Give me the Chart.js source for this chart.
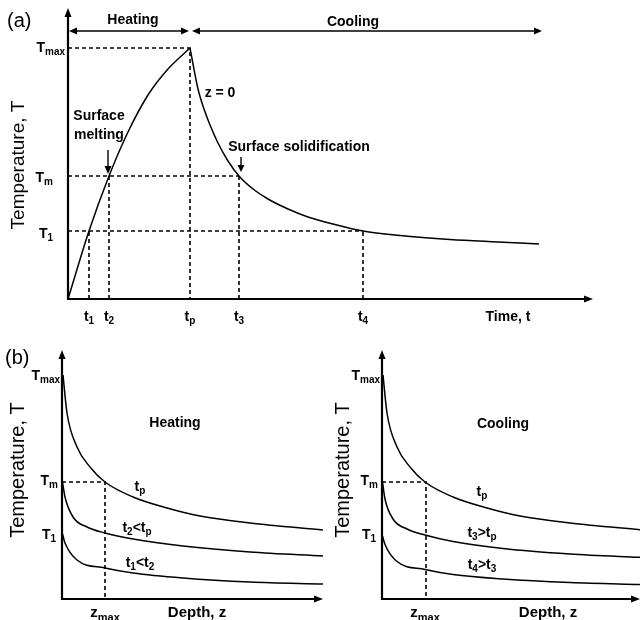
<!DOCTYPE html>
<html><head><meta charset="utf-8">
<script src="https://cdn.jsdelivr.net/npm/chart.js@4/dist/chart.umd.min.js"></script>
<style>
html,body{margin:0;padding:0;background:#fff;}
#wrap{position:relative;width:642px;height:620px;overflow:hidden;background:#fff;}
canvas{position:absolute;}
</style></head><body>
<div id="wrap">
<canvas id="ca" width="642" height="330" style="left:0;top:0"></canvas>
<canvas id="cb1" width="328" height="290" style="left:0;top:330px"></canvas>
<canvas id="cb2" width="314" height="290" style="left:328px;top:330px"></canvas>
</div>
<script>
// ---------- Panel (a): surface (z = 0) temperature vs time ----------
const timeTickLabels = ['t_1', 't_2', 't_p', 't_3', 't_4'];
const timeTicks      = [2.1, 4.1, 12.2, 17.1, 29.5];
const tempTickLabelsA = ['T_max', 'T_m', 'T_1'];
const tempTicksA      = [25.1, 12.3, 6.8];
const heatingTime = [0, 2.1, 4.1, 6.0, 8.0, 10.0, 12.2];
const heatingTemp = [0, 6.8, 12.3, 16.7, 20.4, 23.0, 25.1];
const coolingTime = [12.2, 12.5, 13.0, 13.6, 14.2, 15.0, 16.0, 17.1, 18.5, 20.0, 22.0, 24.0, 26.5, 29.5, 33.2, 38.2, 43.0, 47.1];
const coolingTemp = [25.1, 23.5, 21.0, 19.0, 17.4, 15.6, 13.8, 12.3, 11.0, 10.0, 9.0, 8.2, 7.5, 6.8, 6.35, 5.95, 5.7, 5.5];

// ---------- Panel (b): temperature vs depth profiles ----------
const tempTickLabelsB = ['T_max', 'T_m', 'T_1'];
const tempTicksB      = [22.3, 11.7, 6.5];
const depthTickLabel  = 'z_max';
const zmaxDepth       = 4.3;
// heating profiles (times t_p, t_2, t_1)
const depthTp = [0.1, 0.5, 1.5, 2.8, 4.3, 7.1, 10.5, 13.8, 18.8, 26.1];
const heatTp  = [22.4, 18.6, 15.2, 13.2, 11.7, 10.2, 9.1, 8.3, 7.6, 6.9];
const depthT2 = [0.05, 0.3, 1.1, 2.5, 4.3, 7.1, 12.1, 18.8, 26.1];
const heatT2  = [11.7, 10.2, 8.2, 7.2, 6.6, 6.0, 5.3, 4.7, 4.3];
const depthT1 = [0.05, 0.3, 1.5, 4.3, 7.1, 12.1, 18.8, 26.1];
const heatT1  = [6.5, 5.6, 3.9, 3.1, 2.6, 2.1, 1.7, 1.5];
// cooling profiles (times t_p, t_3, t_4)
const coolTp = [22.4, 18.6, 15.2, 13.2, 11.7, 10.2, 9.1, 8.3, 7.6, 6.9];
const coolT3 = [11.7, 10.0, 8.0, 7.0, 6.4, 5.75, 5.05, 4.5, 4.15];
const coolT4 = [6.3, 5.45, 3.75, 2.95, 2.45, 2.0, 1.65, 1.45];
const heatingProfileLabels = ['t_p', 't_2<t_p', 't_1<t_2'];
const coolingProfileLabels = ['t_p', 't_3>t_p', 't_4>t_3'];

// ---------- helpers ----------
const FAM = '"Liberation Sans", Arial, Helvetica, sans-serif';
function parseRich(s) {
  const parts = []; let i = 0, buf = '';
  while (i < s.length) {
    if (s[i] === '_') {
      if (buf) { parts.push([buf, 0]); buf = ''; }
      i++; let sub = '';
      while (i < s.length && /[A-Za-z0-9]/.test(s[i])) { sub += s[i]; i++; }
      parts.push([sub, 1]);
    } else { buf += s[i]; i++; }
  }
  if (buf) parts.push([buf, 0]);
  return parts;
}
function rich(ctx, s, x, y, align, size, bold) {
  const parts = parseRich(s);
  const w = bold ? 'bold ' : '';
  const mainF = w + size + 'px ' + FAM, subF = w + Math.round(size * 0.72) + 'px ' + FAM;
  let total = 0;
  parts.forEach(([t, sb]) => { ctx.font = sb ? subF : mainF; total += ctx.measureText(t).width; });
  let cx = align === 'right' ? x - total : align === 'center' ? x - total / 2 : x;
  ctx.save();
  ctx.textBaseline = 'middle'; ctx.textAlign = 'left'; ctx.fillStyle = '#000';
  parts.forEach(([t, sb]) => {
    ctx.font = sb ? subF : mainF;
    ctx.fillText(t, cx, y + (sb ? size * 0.3 : 0));
    cx += ctx.measureText(t).width;
  });
  ctx.restore();
}
function arrowHead(ctx, x, y, dir, len, half) {
  ctx.beginPath();
  if (dir === 'up') { ctx.moveTo(x, y); ctx.lineTo(x - half, y + len); ctx.lineTo(x + half, y + len); }
  if (dir === 'down') { ctx.moveTo(x, y); ctx.lineTo(x - half, y - len); ctx.lineTo(x + half, y - len); }
  if (dir === 'right') { ctx.moveTo(x, y); ctx.lineTo(x - len, y - half); ctx.lineTo(x - len, y + half); }
  if (dir === 'left') { ctx.moveTo(x, y); ctx.lineTo(x + len, y - half); ctx.lineTo(x + len, y + half); }
  ctx.closePath(); ctx.fill();
}
function line(ctx, x1, y1, x2, y2, w) {
  ctx.beginPath(); ctx.lineWidth = w; ctx.moveTo(x1, y1); ctx.lineTo(x2, y2); ctx.stroke();
}
function drawAxes(chart) {
  const ctx = chart.ctx, a = chart.chartArea;
  const x0 = chart.scales.x.getPixelForValue(0), y0 = chart.scales.y.getPixelForValue(0);
  ctx.save(); ctx.strokeStyle = '#000'; ctx.fillStyle = '#000';
  line(ctx, x0, y0 + 1, x0, a.top + 6, 2.2);
  line(ctx, x0 - 1, y0, a.right - 6, y0, 2.2);
  arrowHead(ctx, x0, a.top, 'up', 9, 3.5);
  arrowHead(ctx, a.right, y0, 'right', 9, 3.5);
  ctx.restore();
}
function vTitle(ctx, text, x, y, size) {
  ctx.save(); ctx.translate(x, y); ctx.rotate(-Math.PI / 2);
  ctx.font = size + 'px ' + FAM; ctx.fillStyle = '#000';
  ctx.textAlign = 'center'; ctx.textBaseline = 'middle';
  ctx.fillText(text, 0, 0); ctx.restore();
}
const pts = (xs, ys) => xs.map((x, i) => ({ x: x, y: ys[i] }));
const curve = (xs, ys) => ({ data: pts(xs, ys), showLine: true, borderColor: '#000', borderWidth: 1.5,
  pointRadius: 0, cubicInterpolationMode: 'monotone', fill: false });
const dashed = (xs, ys) => ({ data: pts(xs, ys), showLine: true, borderColor: '#000', borderWidth: 1.6,
  borderDash: [4, 3], pointRadius: 0, tension: 0, fill: false });

function makeChart(id, xMax, yMax, pad, datasets, extras) {
  return new Chart(document.getElementById(id), {
    type: 'scatter',
    data: { datasets: datasets },
    options: {
      responsive: false, animation: false, events: [],
      layout: { padding: pad },
      plugins: { legend: { display: false }, tooltip: { enabled: false } },
      scales: {
        x: { type: 'linear', display: false, min: 0, max: xMax },
        y: { type: 'linear', display: false, min: 0, max: yMax }
      }
    },
    plugins: [{ id: 'extras', afterDraw(chart) { drawAxes(chart); extras(chart); } }]
  });
}

// ---------- Chart (a) ----------
const [tmaxA, tmA, t1A] = tempTicksA;
const [t1, t2, tp, t3, t4] = timeTicks;
makeChart('ca', 52.5, 29.1, { left: 68, top: 8, right: 49, bottom: 31 }, [
  curve(heatingTime, heatingTemp),
  curve(coolingTime, coolingTemp),
  dashed([0, tp, tp], [tmaxA, tmaxA, 0]),
  dashed([0, t3], [tmA, tmA]),
  dashed([0, t4], [t1A, t1A]),
  dashed([t1, t1], [0, t1A]),
  dashed([t2, t2], [0, tmA]),
  dashed([t3, t3], [0, tmA]),
  dashed([t4, t4], [0, t1A])
], function (chart) {
  const ctx = chart.ctx, X = v => chart.scales.x.getPixelForValue(v), Y = v => chart.scales.y.getPixelForValue(v);
  ctx.save(); ctx.strokeStyle = '#000'; ctx.fillStyle = '#000';
  // heating / cooling span arrows
  const ya = Y(26.8);
  line(ctx, X(0) + 4, ya, X(tp) - 4, ya, 1.4);
  arrowHead(ctx, X(0) + 1, ya, 'left', 8, 3.5);
  arrowHead(ctx, X(tp) - 1, ya, 'right', 8, 3.5);
  line(ctx, X(tp) + 4, ya, X(47.4) - 4, ya, 1.4);
  arrowHead(ctx, X(tp) + 2, ya, 'left', 8, 3.5);
  arrowHead(ctx, X(47.4), ya, 'right', 8, 3.5);
  // pointer arrows
  line(ctx, X(4.0), Y(14.9), X(4.0), Y(12.8), 1.4);
  arrowHead(ctx, X(4.0), Y(12.5), 'down', 8, 3.5);
  line(ctx, X(17.3), Y(14.2), X(17.3), Y(12.9), 1.4);
  arrowHead(ctx, X(17.3), Y(12.7), 'down', 7, 3.5);
  ctx.restore();
  // texts
  rich(ctx, 'Heating', X(6.5), Y(27.9), 'center', 14, true);
  rich(ctx, 'Cooling', X(28.5), Y(27.7), 'center', 14, true);
  rich(ctx, 'z = 0', X(15.2), Y(20.6), 'center', 14, true);
  rich(ctx, 'Surface', X(3.1), Y(18.3), 'center', 14, true);
  rich(ctx, 'melting', X(3.1), Y(16.4), 'center', 14, true);
  rich(ctx, 'Surface solidification', X(23.1), Y(15.2), 'center', 14, true);
  timeTicks.forEach((v, i) => rich(ctx, timeTickLabels[i], X(v), Y(0) + 18, 'center', 14, true));
  rich(ctx, 'Time, t', X(44.0), Y(0) + 18, 'center', 14, true);
  rich(ctx, tempTickLabelsA[0], X(0) - 3, Y(tmaxA), 'right', 14, true);
  rich(ctx, tempTickLabelsA[1], X(0) - 15, Y(tmA) + 2, 'right', 14, true);
  rich(ctx, tempTickLabelsA[2], X(0) - 15, Y(t1A) + 3, 'right', 14, true);
  ctx.save(); ctx.font = '20px ' + FAM; ctx.fillStyle = '#000'; ctx.textBaseline = 'middle';
  ctx.fillText('(a)', 7, 21); ctx.restore();
  vTitle(ctx, 'Temperature, T', 19, 165, 19);
});

// ---------- Charts (b) ----------
function profileExtras(title, titlePos, labels, labelPos, depthTitleX, panelTag, titleX, titleY) {
  return function (chart) {
    const ctx = chart.ctx, X = v => chart.scales.x.getPixelForValue(v), Y = v => chart.scales.y.getPixelForValue(v);
    rich(ctx, title, X(titlePos[0]), Y(titlePos[1]), 'center', 14, true);
    labels.forEach((s, i) => rich(ctx, s, X(labelPos[i][0]), Y(labelPos[i][1]), 'center', 14, true));
    rich(ctx, tempTickLabelsB[0], X(0) - 2, Y(tempTicksB[0]), 'right', 14, true);
    rich(ctx, tempTickLabelsB[1], X(0) - 4, Y(tempTicksB[1]) - 1, 'right', 14, true);
    rich(ctx, tempTickLabelsB[2], X(0) - 6, Y(tempTicksB[2]) + 1, 'right', 14, true);
    rich(ctx, depthTickLabel, X(zmaxDepth), Y(0) + 14, 'center', 15, true);
    rich(ctx, 'Depth, z', X(depthTitleX), Y(0) + 14, 'center', 15, true);
    if (panelTag) { ctx.save(); ctx.font = '20px ' + FAM; ctx.fillStyle = '#000'; ctx.textBaseline = 'middle';
      ctx.fillText(panelTag, 5, 28); ctx.restore(); }
    vTitle(ctx, 'Temperature, T', titleX, titleY, 20);
  };
}
const tmB = tempTicksB[1];
makeChart('cb1', 26.1, 24.9, { left: 62, top: 20, right: 5, bottom: 21 }, [
  curve(depthTp, heatTp), curve(depthT2, heatT2), curve(depthT1, heatT1),
  dashed([0, zmaxDepth, zmaxDepth], [tmB, tmB, 0])
], profileExtras('Heating', [11.3, 17.6], heatingProfileLabels,
  [[7.8, 11.2], [7.5, 7.1], [7.8, 3.6]], 13.5, '(b)', 18, 140));
makeChart('cb2', 25.8, 24.9, { left: 54, top: 20, right: 2, bottom: 21 }, [
  curve(depthTp, coolTp), curve(depthT2, coolT3), curve(depthT1, coolT4),
  dashed([0, zmaxDepth + 0.1, zmaxDepth + 0.1], [tmB, tmB, 0])
], profileExtras('Cooling', [12.1, 17.5], coolingProfileLabels,
  [[10.0, 10.7], [10.0, 6.6], [10.0, 3.4]], 16.6, null, 15, 140));
</script>
</body></html>
